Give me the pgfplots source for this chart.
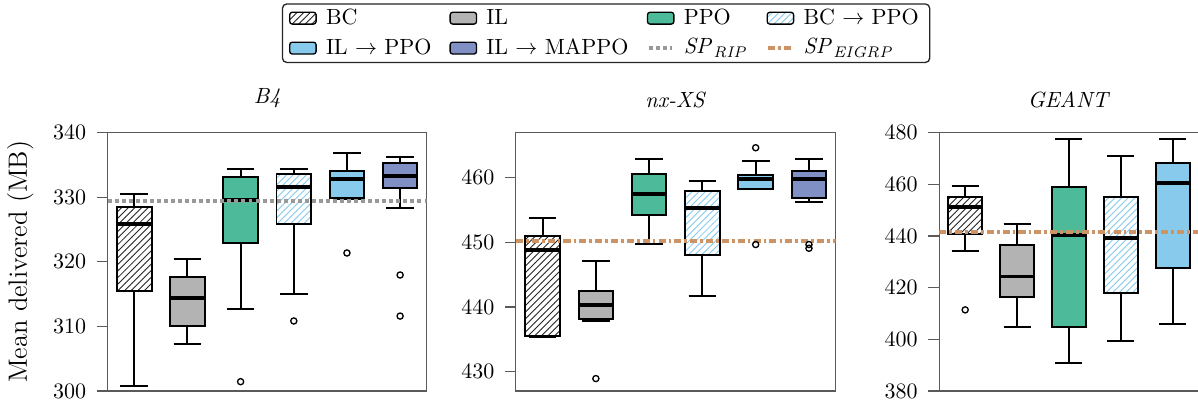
\documentclass[border=0pt]{standalone}
\usepackage{pgfplots}
\pgfplotsset{compat=1.18}
\usepgfplotslibrary{statistics}
\usetikzlibrary{patterns}
\definecolor{ilgray}{RGB}{179,179,179}
\definecolor{ppo}{RGB}{77,187,153}
\definecolor{ilppo}{RGB}{135,202,236}
\definecolor{mappo}{RGB}{128,144,196}
\definecolor{sprip}{RGB}{153,153,153}
\definecolor{speigrp}{RGB}{204,148,100}
\definecolor{framec}{RGB}{90,90,90}
\pgfplotsset{
  panel/.style={
    scale only axis, height=117.4pt, anchor=south west,
    axis line style={framec, line width=0.5pt},
    xtick=\empty, tick align=outside, major tick length=5pt, ytick pos=left,
    ytick style={framec, line width=0.5pt},
    y tick label style={xshift=-1.3pt},
    title style={yshift=1.7pt},
    boxplot/draw direction=y,
    boxplot/box extend=0.65,
    boxplot/every box/.style={draw=black, line width=0.9pt},
    boxplot/every whisker/.style={black, line width=0.9pt},
    boxplot/every median/.style={black, line width=1.7pt},
    mark=o, mark size=1.4pt, mark options={black, line width=0.6pt, fill=none},
  },
  ripline/.style={sprip, line width=1.8pt, dash pattern=on 1.8pt off 1.4pt, forget plot, mark=none},
  eigline/.style={speigrp, line width=1.8pt, dash pattern=on 3.2pt off 1.4pt on 1.2pt off 1.4pt, forget plot, mark=none},
  limg/.style={legend image code/.code={\path[draw=none, fill=none] (0pt,0pt) -- (14.5pt,0pt);\draw[rounded corners=1.2pt, draw=black, line width=0.6pt, #1] (0pt,-2.7pt) rectangle (12pt,2.7pt);}},
  lline/.style={legend image code/.code={\path[draw=none, fill=none] (0pt,0pt) -- (14.5pt,0pt);\draw[#1] (0.5pt,0pt) -- (11pt,0pt);}},
}
\begin{document}
\begin{tikzpicture}
% ---------------- B4 ----------------
\begin{axis}[panel, at={(48.95pt,5pt)}, width=145.0pt,
  xmin=0.5, xmax=6.5, ymin=300, ymax=340, ytick={300,310,320,330,340},
  title={\textit{B4}}, ylabel={Mean delivered (MB)}, ylabel style={font=\large}, ylabel shift=2pt]
\addplot[forget plot, draw=black, pattern=north east lines, pattern color=black!85, boxplot prepared={draw position=1, lower whisker=300.8, lower quartile=315.5, median=325.9, upper quartile=328.45, upper whisker=330.46}] coordinates {};
\addplot[forget plot, draw=black, fill=ilgray, boxplot prepared={draw position=2, lower whisker=307.3, lower quartile=310.07, median=314.4, upper quartile=317.6, upper whisker=320.44}] coordinates {};
\addplot[forget plot, draw=black, fill=ppo, boxplot prepared={draw position=3, lower whisker=312.75, lower quartile=322.97, median=329.58, upper quartile=333.09, upper whisker=334.38}] table[row sep=\\, y index=0] {y\\ 301.44\\};
\addplot[forget plot, draw=black, pattern=north east lines, pattern color=ilppo, boxplot prepared={draw position=4, lower whisker=315.07, lower quartile=325.8, median=331.6, upper quartile=333.6, upper whisker=334.38}] table[row sep=\\, y index=0] {y\\ 310.84\\};
\addplot[forget plot, draw=black, fill=ilppo, boxplot prepared={draw position=5, lower whisker=329.8, lower quartile=329.89, median=332.78, upper quartile=334.07, upper whisker=336.9}] table[row sep=\\, y index=0] {y\\ 321.37\\};
\addplot[forget plot, draw=black, fill=mappo, boxplot prepared={draw position=6, lower whisker=328.3, lower quartile=331.5, median=333.3, upper quartile=335.36, upper whisker=336.3}] table[row sep=\\, y index=0] {y\\ 317.96\\ 311.6\\};
\addplot[ripline] coordinates {(0.5,329.47) (6.5,329.47)};
\end{axis}
% ---------------- nx-XS ----------------
\begin{axis}[panel, at={(234.5pt,5pt)}, width=145.3pt,
  xmin=0.5, xmax=6.5, ymin=427, ymax=467, ytick={430,440,450,460},
  title={\textit{nx-XS}},
  legend columns=4,
  legend style={at={(0.282,1.501)}, anchor=north, draw=black!85, line width=0.6pt,
    rounded corners=2pt, font=\normalsize, legend cell align=left,
    inner ysep=0.2pt, row sep=1pt,
    /tikz/every even column/.append style={column sep=6.2pt}}]
\addlegendimage{limg={pattern=north east lines, pattern color=black!85}}
\addlegendentry{BC}
\addlegendimage{limg={fill=ilgray}}
\addlegendentry{IL}
\addlegendimage{limg={fill=ppo}}
\addlegendentry{PPO}
\addlegendimage{limg={pattern=north east lines, pattern color=ilppo}}
\addlegendentry{BC $\rightarrow$ PPO}
\addlegendimage{limg={fill=ilppo}}
\addlegendentry{IL $\rightarrow$ PPO}
\addlegendimage{limg={fill=mappo}}
\addlegendentry{IL $\rightarrow$ MAPPO}
\addlegendimage{lline={sprip, line width=1.8pt, dash pattern=on 1.8pt off 1.4pt}}
\addlegendentry{$\mathit{SP}_{\mathit{RIP}}$}
\addlegendimage{lline={speigrp, line width=1.8pt, dash pattern=on 3.2pt off 1.4pt on 1.2pt off 1.4pt}}
\addlegendentry{$\mathit{SP}_{\mathit{EIGRP}}$}
\addplot[forget plot, draw=black, pattern=north east lines, pattern color=black!85, boxplot prepared={draw position=1, lower whisker=435.4, lower quartile=435.46, median=448.86, upper quartile=451.07, upper whisker=453.85}] coordinates {};
\addplot[forget plot, draw=black, fill=ilgray, boxplot prepared={draw position=2, lower whisker=437.9, lower quartile=438.2, median=440.36, upper quartile=442.52, upper whisker=447.16}] table[row sep=\\, y index=0] {y\\ 428.92\\};
\addplot[forget plot, draw=black, fill=ppo, boxplot prepared={draw position=3, lower whisker=449.74, lower quartile=454.27, median=457.46, upper quartile=460.6, upper whisker=462.97}] coordinates {};
\addplot[forget plot, draw=black, pattern=north east lines, pattern color=ilppo, boxplot prepared={draw position=4, lower whisker=441.75, lower quartile=448.08, median=455.35, upper quartile=457.92, upper whisker=459.47}] coordinates {};
\addplot[forget plot, draw=black, fill=ilppo, boxplot prepared={draw position=5, lower whisker=458.2, lower quartile=458.3, median=459.8, upper quartile=460.5, upper whisker=462.6}] table[row sep=\\, y index=0] {y\\ 464.67\\ 449.68\\};
\addplot[forget plot, draw=black, fill=mappo, boxplot prepared={draw position=6, lower whisker=456.33, lower quartile=456.85, median=459.8, upper quartile=461.07, upper whisker=462.87}] table[row sep=\\, y index=0] {y\\ 449.68\\ 449.1\\};
\addplot[eigline] coordinates {(0.5,450.2) (6.5,450.2)};
\end{axis}
% ---------------- GEANT ----------------
\begin{axis}[panel, at={(426.9pt,5pt)}, width=117.9pt,
  xmin=0.5, xmax=5.5, ymin=380, ymax=480, ytick={380,400,420,440,460,480},
  title={\textit{GEANT}}]
\addplot[forget plot, draw=black, pattern=north east lines, pattern color=black!85, boxplot prepared={draw position=1, lower whisker=434.3, lower quartile=440.8, median=451.2, upper quartile=455.0, upper whisker=459.5}] table[row sep=\\, y index=0] {y\\ 411.4\\};
\addplot[forget plot, draw=black, fill=ilgray, boxplot prepared={draw position=2, lower whisker=404.9, lower quartile=416.5, median=424.3, upper quartile=436.6, upper whisker=444.65}] coordinates {};
\addplot[forget plot, draw=black, fill=ppo, boxplot prepared={draw position=3, lower whisker=390.7, lower quartile=404.8, median=440.3, upper quartile=458.9, upper whisker=477.7}] coordinates {};
\addplot[forget plot, draw=black, pattern=north east lines, pattern color=ilppo, boxplot prepared={draw position=4, lower whisker=399.5, lower quartile=418.1, median=439.2, upper quartile=455.0, upper whisker=471.0}] coordinates {};
\addplot[forget plot, draw=black, fill=ilppo, boxplot prepared={draw position=5, lower whisker=406.0, lower quartile=427.7, median=460.4, upper quartile=468.15, upper whisker=477.7}] coordinates {};
\addplot[eigline] coordinates {(0.5,441.7) (5.5,441.7)};
\end{axis}
\pgfresetboundingbox
\useasboundingbox (0pt,0pt) rectangle (544.5pt,182.7pt);
\end{tikzpicture}
\end{document}
